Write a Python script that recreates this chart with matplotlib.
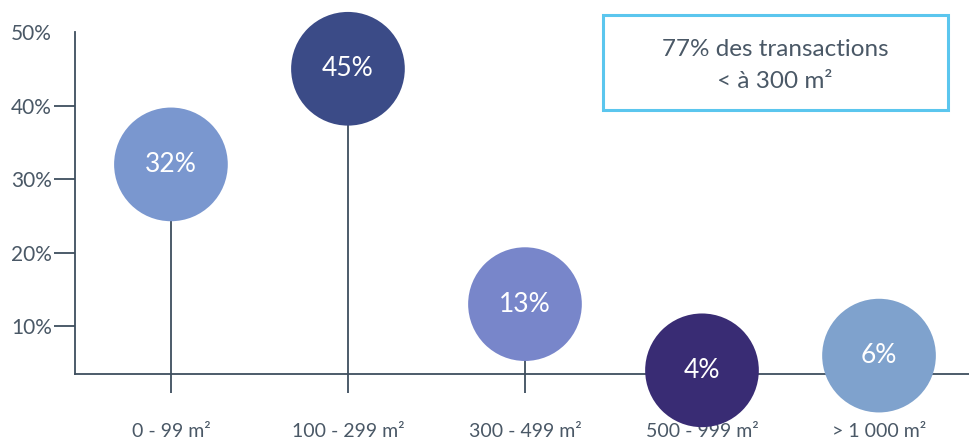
import matplotlib.pyplot as plt
from matplotlib.patches import Rectangle

categories = ["0 - 99 m²", "100 - 299 m²", "300 - 499 m²", "500 - 999 m²", "> 1 000 m²"]
values = [32, 45, 13, 4, 6]
colors = ["#7A97CF", "#3B4B87", "#7886CA", "#392C74", "#7FA2CD"]
yticks = [10, 20, 30, 40, 50]

plt.rcParams['font.family'] = ['Lato', 'DejaVu Sans']
dark = "#3E4E5E"
txt = "#4A5866"

fig = plt.figure(figsize=(9.7, 4.45), dpi=100)
ax = fig.add_axes([75/970, 71/445, 895/970, 342/445])

x = list(range(len(values)))
# stems run a bit below the axis line
ax.vlines(x, 0.9, values, color=dark, lw=1.3, clip_on=False, zorder=1)
ax.scatter(x, values, s=6700, c=colors, clip_on=False, zorder=3, linewidths=0)
for i, v in enumerate(values):
    ax.text(i, v, f"{v}%", color="white", fontsize=19, ha="center", va="center", zorder=4)

ax.set_xlim(-0.542, 4.514)
ax.set_ylim(3.5, 50)
ax.set_yticks(yticks)
ax.set_yticklabels([f"{t}%" for t in yticks])
ax.set_xticks(x)
ax.set_xticklabels(categories)
ax.tick_params(axis='y', length=15, width=1.3, color=dark, labelcolor=txt, labelsize=15, pad=1.5)
ax.tick_params(axis='x', length=0, labelcolor=txt, labelsize=14, pad=35)
ax.yaxis.get_major_ticks()[-1].tick1line.set_visible(False)

for s in ["top", "right"]:
    ax.spines[s].set_visible(False)
for s in ["left", "bottom"]:
    ax.spines[s].set_color(dark)
    ax.spines[s].set_linewidth(1.3)

fig.patches.append(Rectangle((603/970, 335/445), 345/970, 95/445, transform=fig.transFigure,
                             fill=False, edgecolor="#5BC6EE", lw=2.2))
fig.text(775/970, 1 - 50/445, "77% des transactions", ha="center", va="center", fontsize=17.5, color=txt)
fig.text(775/970, 1 - 81/445, "< à 300 m²", ha="center", va="center", fontsize=17.5, color=txt)

fig.savefig("out.png", dpi=100)
